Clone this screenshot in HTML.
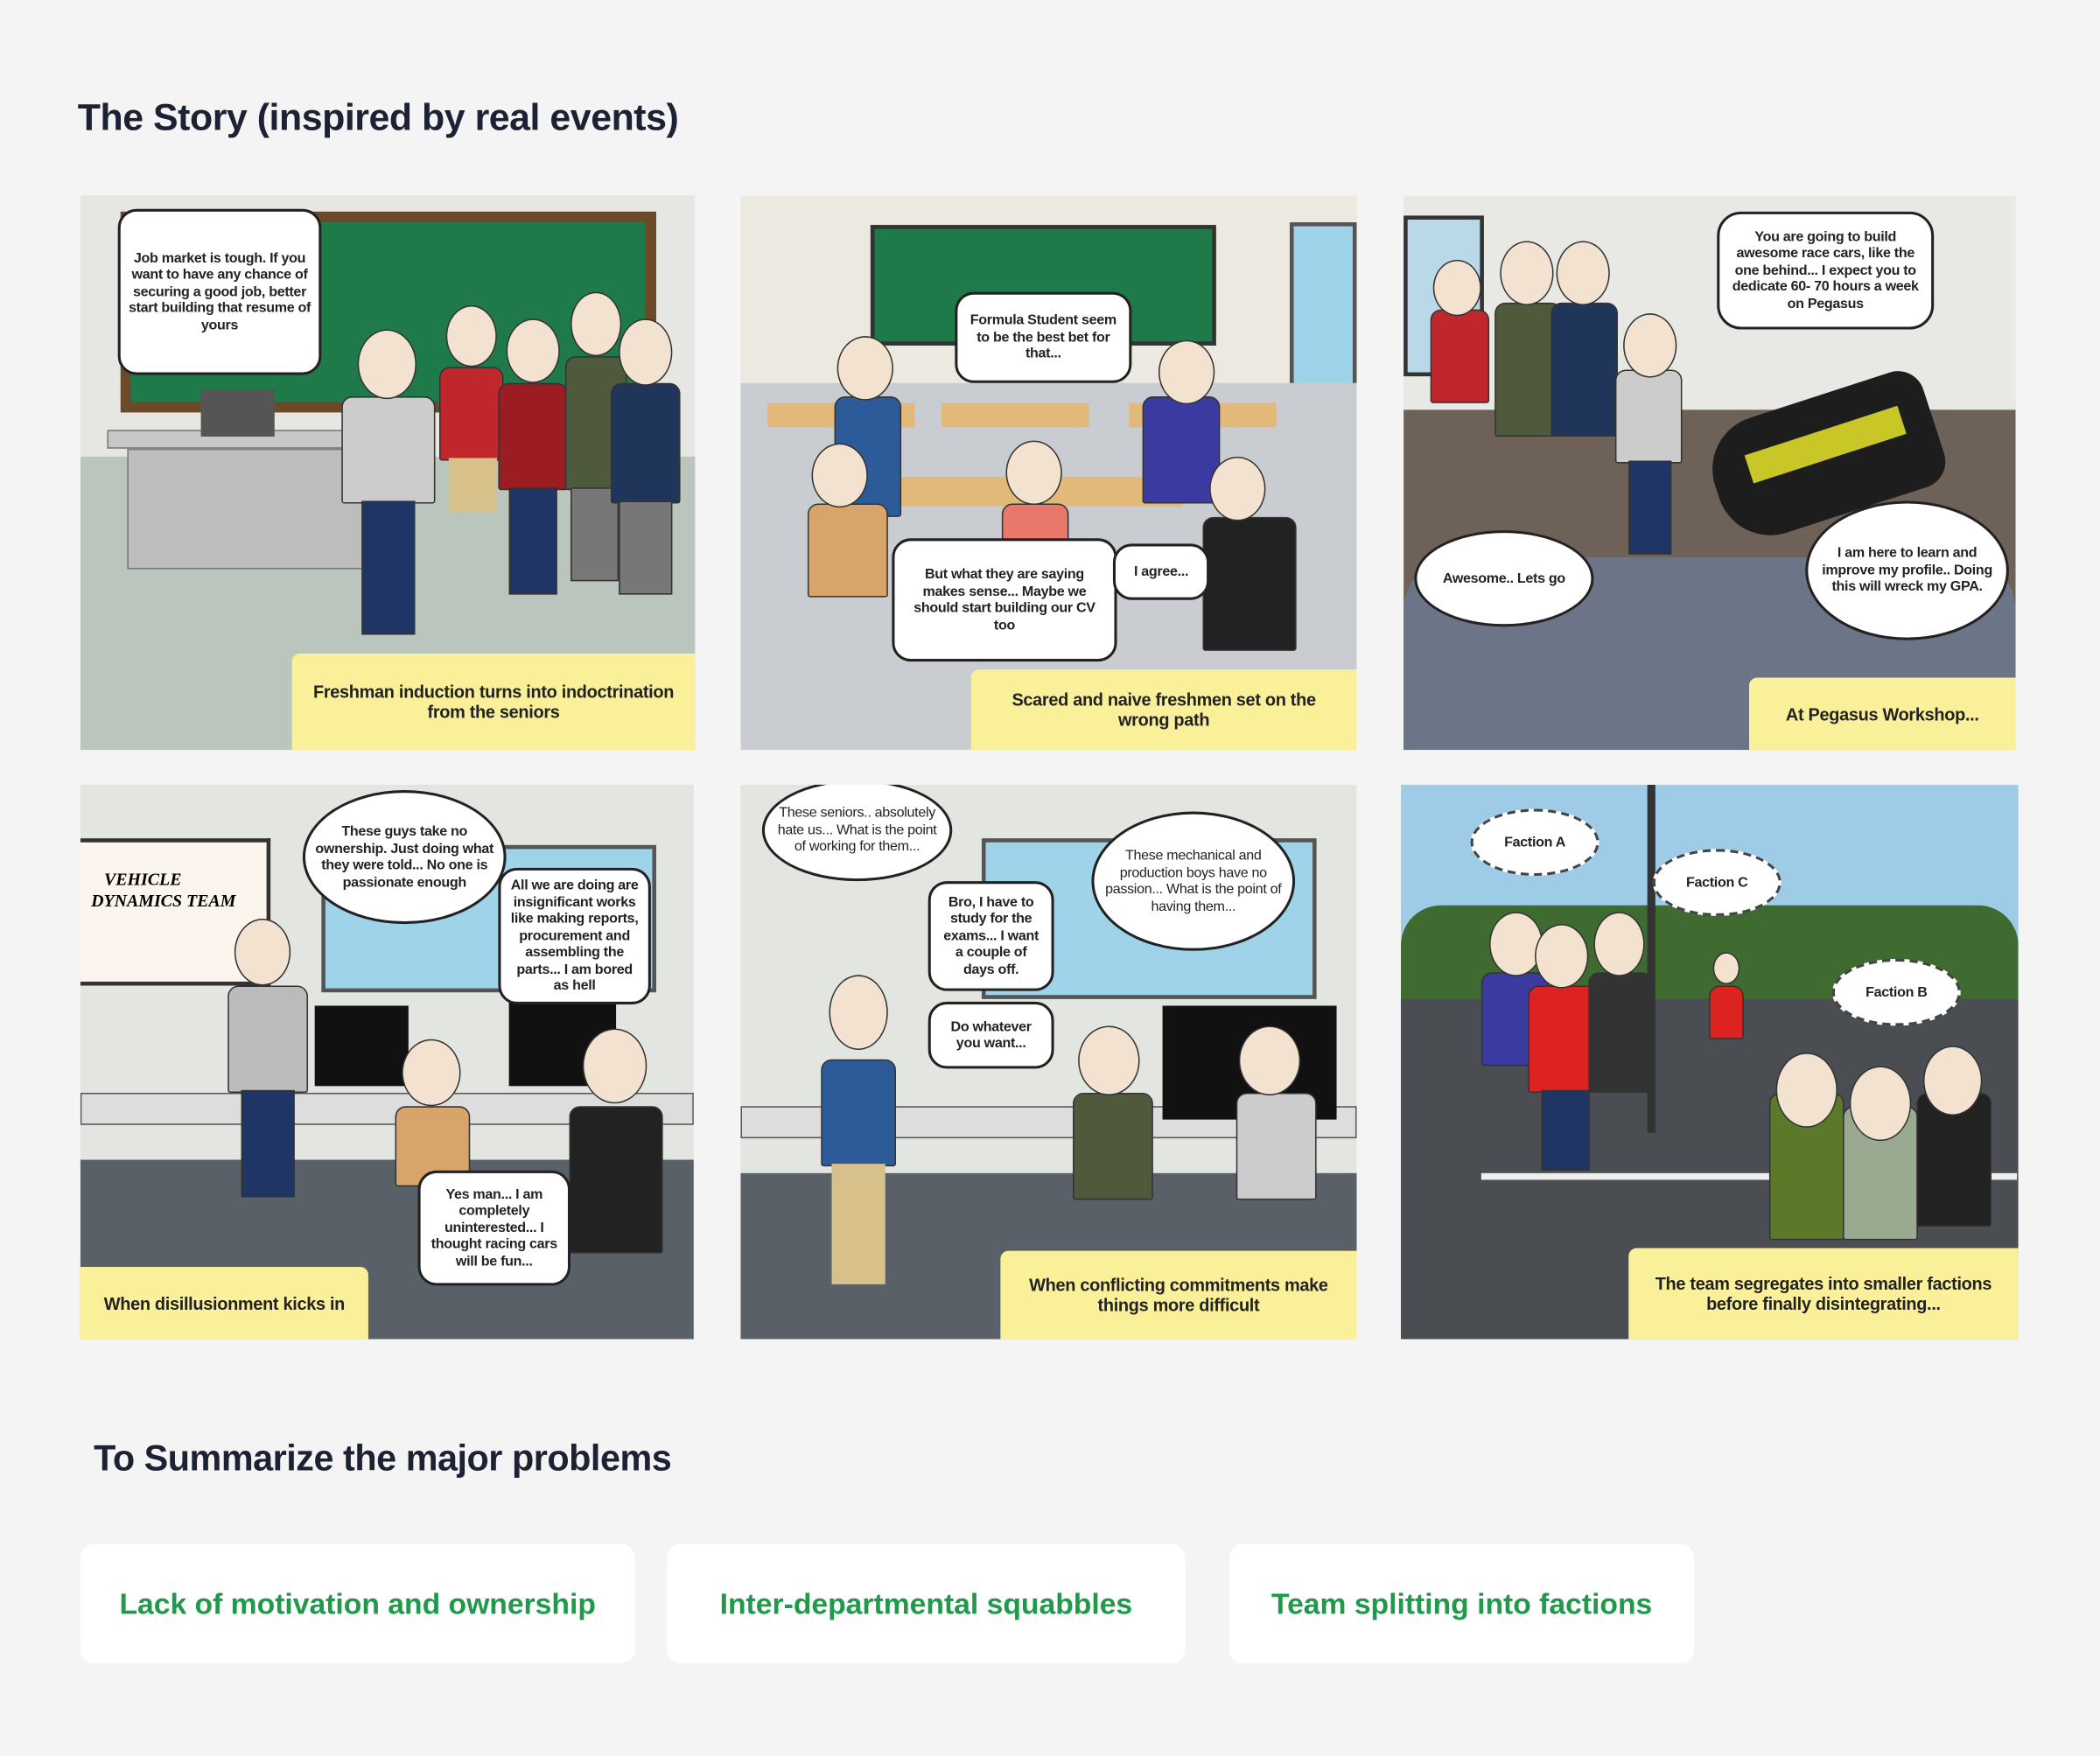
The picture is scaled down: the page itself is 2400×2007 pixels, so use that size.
<!DOCTYPE html>
<html><head><meta charset="utf-8"><style>
*{margin:0;padding:0;box-sizing:border-box}
body{width:2400px;height:2006px;background:#f4f4f4;overflow:hidden;font-family:"Liberation Sans",sans-serif}
#s{position:absolute;left:0;top:0;width:1568px;height:1311px;transform:scale(1.53061);transform-origin:0 0}
.a{position:absolute}
.p{position:absolute;overflow:hidden}
.b{position:absolute;background:#fff;border:2px solid #222;border-radius:14px;display:flex;align-items:center;justify-content:center;text-align:center;font-family:"Liberation Sans Narrow","Liberation Sans",sans-serif;font-weight:bold;font-size:10.5px;line-height:12.5px;color:#222;padding:6px;letter-spacing:-0.2px}
.t{border-radius:50%}
.d{border:2px dashed #444;border-radius:50%}
.c{position:absolute;background:#fbf09a;display:flex;align-items:center;justify-content:center;text-align:center;font-family:"Liberation Sans Narrow","Liberation Sans",sans-serif;font-weight:bold;font-size:13px;line-height:15px;color:#222;padding:4px 10px;letter-spacing:-0.2px}
.h{position:absolute;border-radius:50%;background:#f3e2cf;border:1.5px solid #333}
.bd{position:absolute;border-radius:8px 8px 2px 2px;border:1.5px solid #333}
.lg{position:absolute;background:#1e3566;border:1px solid #333}
h1{position:absolute;font-weight:bold;color:#1c2233;font-family:"Liberation Sans",sans-serif;letter-spacing:-0.3px}
.card{position:absolute;top:1153px;height:89px;background:#fff;border-radius:10px;color:#1f9a4a;font-size:22px;font-weight:bold;display:flex;align-items:center;justify-content:center}
</style></head><body><div id="s">
<h1 style="left:58px;top:72px;font-size:28px;font-weight:600">The Story (inspired by real events)</h1>

<!-- P1 -->
<div class="p" style="left:60px;top:146px;width:459px;height:414px;background:#e6e6e2">
<div class="a" style="left:30px;top:12px;width:400px;height:150px;background:#6b4a2a"></div>
<div class="a" style="left:38px;top:20px;width:384px;height:134px;background:#1f7a4a"></div>
<div class="a" style="left:0;top:195px;width:459px;height:219px;background:#b9c5bd"></div>
<div class="a" style="left:20px;top:175px;width:210px;height:14px;background:#c8c8c8;border:1px solid #777"></div>
<div class="a" style="left:35px;top:189px;width:180px;height:90px;background:#bdbdbd;border:1px solid #777"></div>
<div class="a" style="left:90px;top:145px;width:55px;height:35px;background:#555"></div>
<div class="bd" style="left:195px;top:150px;width:70px;height:80px;background:#ccc"></div><div class="lg" style="left:210px;top:228px;width:40px;height:100px"></div><div class="h" style="left:207px;top:100px;width:44px;height:52px"></div>
<div class="bd" style="left:268px;top:128px;width:48px;height:70px;background:#c0272d"></div><div class="a" style="left:275px;top:196px;width:36px;height:40px;background:#d8c08a"></div><div class="h" style="left:273px;top:82px;width:38px;height:46px"></div>
<div class="bd" style="left:312px;top:140px;width:52px;height:80px;background:#9b1d22"></div><div class="lg" style="left:320px;top:218px;width:36px;height:80px"></div><div class="h" style="left:318px;top:92px;width:40px;height:48px"></div>
<div class="bd" style="left:362px;top:120px;width:46px;height:100px;background:#4f5a3c"></div><div class="lg" style="left:366px;top:218px;width:36px;height:70px;background:#777"></div><div class="h" style="left:366px;top:72px;width:38px;height:48px"></div>
<div class="bd" style="left:396px;top:140px;width:52px;height:90px;background:#1f3559"></div><div class="lg" style="left:402px;top:228px;width:40px;height:70px;background:#777"></div><div class="h" style="left:402px;top:92px;width:40px;height:50px"></div>
<div class="b" style="left:28px;top:10px;width:152px;height:124px">Job market is tough. If you want to have any chance of securing a good job, better start building that resume of yours</div>
<div class="c" style="left:158px;top:342px;width:301px;height:72px;border-radius:6px 0 0 0">Freshman induction turns into indoctrination from the seniors</div>
</div>

<!-- P2 -->
<div class="p" style="left:553px;top:146px;width:460px;height:414px;background:#ebe9e0">
<div class="a" style="left:97px;top:22px;width:258px;height:90px;background:#1f7a4a;border:3px solid #333"></div>
<div class="a" style="left:410px;top:20px;width:50px;height:130px;background:#9ed3ea;border:3px solid #555"></div>
<div class="a" style="left:0;top:140px;width:460px;height:274px;background:#c9ccd0"></div>
<div class="a" style="left:20px;top:155px;width:110px;height:18px;background:#e2b97a"></div>
<div class="a" style="left:150px;top:155px;width:110px;height:18px;background:#e2b97a"></div>
<div class="a" style="left:290px;top:155px;width:110px;height:18px;background:#e2b97a"></div>
<div class="a" style="left:110px;top:210px;width:220px;height:22px;background:#e2b97a"></div>
<div class="bd" style="left:70px;top:150px;width:50px;height:90px;background:#2d5a99"></div><div class="h" style="left:72px;top:105px;width:42px;height:48px"></div>
<div class="bd" style="left:50px;top:230px;width:60px;height:70px;background:#d7a56a"></div><div class="h" style="left:53px;top:185px;width:42px;height:48px"></div>
<div class="bd" style="left:195px;top:230px;width:50px;height:40px;background:#e9786a"></div><div class="h" style="left:198px;top:183px;width:42px;height:48px"></div>
<div class="bd" style="left:300px;top:150px;width:58px;height:80px;background:#3b3aa0"></div><div class="h" style="left:312px;top:108px;width:42px;height:48px"></div>
<div class="bd" style="left:345px;top:240px;width:70px;height:100px;background:#222"></div><div class="h" style="left:350px;top:195px;width:42px;height:48px"></div>
<div class="b" style="left:160px;top:72px;width:132px;height:68px">Formula Student seem to be the best bet for that...</div>
<div class="b" style="left:113px;top:256px;width:168px;height:92px">But what they are saying makes sense... Maybe we should start building our CV too</div>
<div class="b" style="left:278px;top:260px;width:72px;height:42px">I agree...</div>
<div class="c" style="left:172px;top:354px;width:288px;height:60px;border-radius:6px 0 0 0">Scared and naive freshmen set on the wrong path</div>
</div>

<!-- P3 -->
<div class="p" style="left:1048px;top:146px;width:457px;height:414px;background:#e8e8e4">
<div class="a" style="left:0;top:15px;width:60px;height:120px;background:#b9d9e8;border:3px solid #333"></div>
<div class="a" style="left:0;top:160px;width:457px;height:254px;background:#6e6258"></div>
<div class="a" style="left:230px;top:150px;width:170px;height:90px;background:#1d1d1d;border-radius:40px 20px 20px 40px;transform:rotate(-18deg)"></div>
<div class="a" style="left:255px;top:175px;width:120px;height:22px;background:#c9c628;transform:rotate(-18deg)"></div>
<div class="bd" style="left:20px;top:85px;width:44px;height:70px;background:#c0272d"></div><div class="h" style="left:22px;top:48px;width:36px;height:42px"></div>
<div class="bd" style="left:68px;top:80px;width:50px;height:100px;background:#4f5a3c"></div><div class="h" style="left:72px;top:34px;width:40px;height:48px"></div>
<div class="bd" style="left:110px;top:80px;width:50px;height:100px;background:#1f3559"></div><div class="h" style="left:114px;top:34px;width:40px;height:48px"></div>
<div class="bd" style="left:158px;top:130px;width:50px;height:70px;background:#ccc"></div><div class="lg" style="left:168px;top:198px;width:32px;height:70px"></div><div class="h" style="left:164px;top:88px;width:40px;height:48px"></div>
<div class="a" style="left:0;top:270px;width:457px;height:144px;background:#6c7488;border-radius:40px 40px 0 0"></div>
<div class="b" style="left:234px;top:12px;width:162px;height:88px;border-radius:18px">You are going to build awesome race cars, like the one behind... I expect you to dedicate 60- 70 hours a week on Pegasus</div>
<div class="b t" style="left:8px;top:250px;width:134px;height:72px">Awesome.. Lets go</div>
<div class="b t" style="left:300px;top:228px;width:152px;height:104px">I am here to learn and improve my profile.. Doing this will wreck my GPA.</div>
<div class="c" style="left:258px;top:360px;width:199px;height:54px;border-radius:6px 0 0 0">At Pegasus Workshop...</div>
</div>

<!-- P4 -->
<div class="p" style="left:60px;top:586px;width:458px;height:414px;background:#e3e6e0">
<div class="a" style="left:0;top:40px;width:142px;height:110px;background:#fcf5ee;border:3px solid #333;border-left:none;font-family:'Liberation Serif',serif;font-style:italic;font-weight:bold;font-size:13px;padding:20px 0 0 8px;line-height:16px">&nbsp;&nbsp;&nbsp;VEHICLE<br>DYNAMICS TEAM</div>
<div class="a" style="left:180px;top:45px;width:250px;height:110px;background:#9ed3ea;border:3px solid #555"></div>
<div class="a" style="left:0;top:280px;width:458px;height:134px;background:#5a6068"></div>
<div class="a" style="left:0;top:230px;width:458px;height:24px;background:#ddd;border:1px solid #555"></div>
<div class="a" style="left:175px;top:165px;width:70px;height:60px;background:#111"></div>
<div class="a" style="left:320px;top:160px;width:80px;height:65px;background:#111"></div>
<div class="bd" style="left:110px;top:150px;width:60px;height:80px;background:#bbb"></div><div class="lg" style="left:120px;top:228px;width:40px;height:80px"></div><div class="h" style="left:115px;top:100px;width:42px;height:50px"></div>
<div class="bd" style="left:235px;top:240px;width:56px;height:60px;background:#d7a56a"></div><div class="h" style="left:240px;top:190px;width:44px;height:50px"></div>
<div class="bd" style="left:365px;top:240px;width:70px;height:110px;background:#222"></div><div class="h" style="left:375px;top:182px;width:48px;height:56px"></div>
<div class="b t" style="left:166px;top:4px;width:152px;height:100px">These guys take no ownership. Just doing what they were told... No one is passionate enough</div>
<div class="b" style="left:312px;top:62px;width:114px;height:102px">All we are doing are insignificant works like making reports, procurement and assembling the parts... I am bored as hell</div>
<div class="b" style="left:252px;top:288px;width:114px;height:86px">Yes man... I am completely uninterested... I thought racing cars will be fun...</div>
<div class="c" style="left:0;top:360px;width:215px;height:54px;border-radius:0 6px 0 0">When disillusionment kicks in</div>
</div>

<!-- P5 -->
<div class="p" style="left:553px;top:586px;width:460px;height:414px;background:#e3e6e0">
<div class="a" style="left:180px;top:40px;width:250px;height:120px;background:#9ed3ea;border:3px solid #555"></div>
<div class="a" style="left:0;top:290px;width:460px;height:124px;background:#5a6068"></div>
<div class="a" style="left:0;top:240px;width:460px;height:24px;background:#ddd;border:1px solid #555"></div>
<div class="a" style="left:315px;top:165px;width:130px;height:85px;background:#111"></div>
<div class="bd" style="left:60px;top:205px;width:56px;height:80px;background:#2d5a99"></div><div class="a" style="left:68px;top:283px;width:40px;height:90px;background:#d8c08a"></div><div class="h" style="left:66px;top:142px;width:44px;height:56px"></div>
<div class="bd" style="left:248px;top:230px;width:60px;height:80px;background:#4f5a3c"></div><div class="h" style="left:252px;top:180px;width:46px;height:52px"></div>
<div class="bd" style="left:370px;top:230px;width:60px;height:80px;background:#ccc"></div><div class="h" style="left:372px;top:180px;width:46px;height:52px"></div>
<div class="b t" style="left:16px;top:-4px;width:142px;height:76px;font-weight:normal">These seniors.. absolutely hate us... What is the point of working for them...</div>
<div class="b" style="left:140px;top:72px;width:94px;height:82px">Bro, I have to study for the exams... I want a couple of days off.</div>
<div class="b t" style="left:262px;top:20px;width:152px;height:104px;font-weight:normal">These mechanical and production boys have no passion... What is the point of having them...</div>
<div class="b" style="left:140px;top:162px;width:94px;height:50px">Do whatever you want...</div>
<div class="c" style="left:194px;top:348px;width:266px;height:66px;border-radius:6px 0 0 0">When conflicting commitments make things more difficult</div>
</div>

<!-- P6 -->
<div class="p" style="left:1046px;top:586px;width:461px;height:414px;background:#9ecbe6">
<div class="a" style="left:0;top:90px;width:461px;height:80px;background:#3f6a30;border-radius:30px 30px 0 0"></div>
<div class="a" style="left:0;top:160px;width:461px;height:254px;background:#4a4d52"></div>
<div class="a" style="left:60px;top:290px;width:400px;height:5px;background:#eee"></div>
<div class="a" style="left:184px;top:0;width:6px;height:260px;background:#333"></div>
<div class="bd" style="left:60px;top:140px;width:50px;height:70px;background:#3b3aa0"></div><div class="h" style="left:66px;top:95px;width:40px;height:48px"></div>
<div class="bd" style="left:95px;top:150px;width:52px;height:80px;background:#d22"></div><div class="lg" style="left:105px;top:228px;width:36px;height:60px"></div><div class="h" style="left:100px;top:104px;width:40px;height:48px"></div>
<div class="bd" style="left:140px;top:140px;width:48px;height:90px;background:#333"></div><div class="h" style="left:144px;top:95px;width:38px;height:48px"></div>
<div class="bd" style="left:230px;top:150px;width:26px;height:40px;background:#d22"></div><div class="h" style="left:233px;top:125px;width:20px;height:24px"></div>
<div class="bd" style="left:275px;top:230px;width:56px;height:110px;background:#5a7a2a"></div><div class="h" style="left:280px;top:200px;width:46px;height:56px"></div>
<div class="bd" style="left:330px;top:240px;width:56px;height:100px;background:#9aaa90"></div><div class="h" style="left:335px;top:210px;width:46px;height:56px"></div>
<div class="bd" style="left:385px;top:230px;width:56px;height:100px;background:#222"></div><div class="h" style="left:390px;top:195px;width:44px;height:52px"></div>
<div class="b d" style="left:52px;top:18px;width:96px;height:50px">Faction A</div>
<div class="b d" style="left:188px;top:48px;width:96px;height:50px">Faction C</div>
<div class="b d" style="left:322px;top:130px;width:96px;height:50px">Faction B</div>
<div class="c" style="left:170px;top:346px;width:291px;height:68px;border-radius:6px 0 0 0">The team segregates into smaller factions before finally disintegrating...</div>
</div>

<h1 style="left:70px;top:1074px;font-size:27px;font-weight:600">To Summarize the major problems</h1>
<div class="card" style="left:60px;width:414px">Lack of motivation and ownership</div>
<div class="card" style="left:498px;width:387px">Inter-departmental squabbles</div>
<div class="card" style="left:918px;width:347px">Team splitting into factions</div>
</div></body></html>
